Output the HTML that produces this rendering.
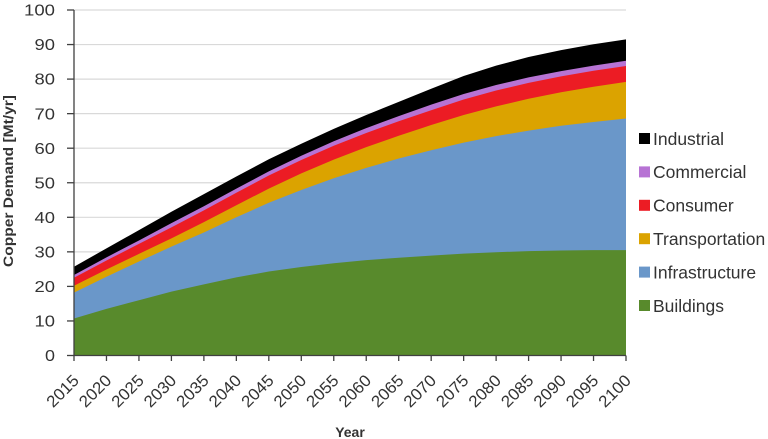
<!DOCTYPE html>
<html>
<head>
<meta charset="utf-8">
<style>
html,body{margin:0;padding:0;background:#fff;}
svg{display:block;}
text{font-family:"Liberation Sans",Arial,sans-serif;}
</style>
</head>
<body>
<svg width="768" height="439" viewBox="0 0 768 439" xmlns="http://www.w3.org/2000/svg">
<rect width="768" height="439" fill="#fff"/>
<!-- gridlines -->
<g stroke="#d9d9d9" stroke-width="1.2">
<line x1="74" y1="10" x2="626" y2="10"/>
<line x1="74" y1="44.55" x2="626" y2="44.55"/>
<line x1="74" y1="79.1" x2="626" y2="79.1"/>
<line x1="74" y1="113.65" x2="626" y2="113.65"/>
<line x1="74" y1="148.2" x2="626" y2="148.2"/>
<line x1="74" y1="182.75" x2="626" y2="182.75"/>
<line x1="74" y1="217.3" x2="626" y2="217.3"/>
<line x1="74" y1="251.85" x2="626" y2="251.85"/>
<line x1="74" y1="286.4" x2="626" y2="286.4"/>
<line x1="74" y1="320.95" x2="626" y2="320.95"/>
</g>
<!-- areas -->
<polygon fill="#000000" points="74,355.5 74,266.71 106.47,248.39 138.94,230.08 171.41,211.77 203.88,194.15 236.35,176.53 268.82,159.26 301.29,143.71 333.76,128.85 366.24,115.03 398.71,101.9 431.18,88.77 463.65,75.99 496.12,65.63 528.59,56.99 561.06,50.08 593.53,44.2 626,39.37 626,355.5"/>
<polygon fill="#b773d4" points="74,355.5 74,275 106.47,257.38 138.94,240.45 171.41,223.17 203.88,206.24 236.35,188.62 268.82,171.35 301.29,155.8 333.76,141.29 366.24,128.16 398.71,116.07 431.18,104.67 463.65,93.96 496.12,84.97 528.59,77.37 561.06,71.15 593.53,65.63 626,60.79 626,355.5"/>
<polygon fill="#ec1c24" points="74,355.5 74,277.76 106.47,260.49 138.94,243.9 171.41,227.32 203.88,210.39 236.35,192.77 268.82,175.49 301.29,159.95 333.76,145.78 366.24,133 398.71,121.25 431.18,110.19 463.65,99.48 496.12,90.5 528.59,82.9 561.06,76.34 593.53,70.81 626,65.97 626,355.5"/>
<polygon fill="#dba300" points="74,355.5 74,285.71 106.47,269.47 138.94,253.92 171.41,238.38 203.88,222.14 236.35,205.21 268.82,188.62 301.29,173.42 333.76,159.6 366.24,147.16 398.71,135.76 431.18,125.05 463.65,115.03 496.12,106.39 528.59,98.79 561.06,92.23 593.53,86.7 626,81.86 626,355.5"/>
<polygon fill="#6a97c9" points="74,355.5 74,292.62 106.47,276.73 138.94,261.52 171.41,246.67 203.88,232.5 236.35,217.3 268.82,202.79 301.29,190.01 333.76,178.26 366.24,167.89 398.71,158.56 431.18,150.27 463.65,142.67 496.12,136.11 528.59,130.58 561.06,125.74 593.53,121.94 626,118.49 626,355.5"/>
<polygon fill="#588a2c" points="74,355.5 74,318.53 106.47,308.86 138.94,300.22 171.41,291.58 203.88,284.33 236.35,277.42 268.82,271.54 301.29,267.05 333.76,263.25 366.24,260.14 398.71,257.72 431.18,255.65 463.65,253.58 496.12,252.2 528.59,251.16 561.06,250.47 593.53,250.12 626,250.12 626,355.5"/>
<!-- axes -->
<g stroke="#404040" stroke-width="1.3">
<line x1="74" y1="10" x2="74" y2="355.5"/>
<line x1="74" y1="355.5" x2="626" y2="355.5"/>
<line x1="67" y1="10" x2="74" y2="10"/>
<line x1="67" y1="44.55" x2="74" y2="44.55"/>
<line x1="67" y1="79.1" x2="74" y2="79.1"/>
<line x1="67" y1="113.65" x2="74" y2="113.65"/>
<line x1="67" y1="148.2" x2="74" y2="148.2"/>
<line x1="67" y1="182.75" x2="74" y2="182.75"/>
<line x1="67" y1="217.3" x2="74" y2="217.3"/>
<line x1="67" y1="251.85" x2="74" y2="251.85"/>
<line x1="67" y1="286.4" x2="74" y2="286.4"/>
<line x1="67" y1="320.95" x2="74" y2="320.95"/>
<line x1="67" y1="355.5" x2="74" y2="355.5"/>
<line x1="74" y1="355.5" x2="74" y2="361"/>
<line x1="106.47" y1="355.5" x2="106.47" y2="361"/>
<line x1="138.94" y1="355.5" x2="138.94" y2="361"/>
<line x1="171.41" y1="355.5" x2="171.41" y2="361"/>
<line x1="203.88" y1="355.5" x2="203.88" y2="361"/>
<line x1="236.35" y1="355.5" x2="236.35" y2="361"/>
<line x1="268.82" y1="355.5" x2="268.82" y2="361"/>
<line x1="301.29" y1="355.5" x2="301.29" y2="361"/>
<line x1="333.76" y1="355.5" x2="333.76" y2="361"/>
<line x1="366.24" y1="355.5" x2="366.24" y2="361"/>
<line x1="398.71" y1="355.5" x2="398.71" y2="361"/>
<line x1="431.18" y1="355.5" x2="431.18" y2="361"/>
<line x1="463.65" y1="355.5" x2="463.65" y2="361"/>
<line x1="496.12" y1="355.5" x2="496.12" y2="361"/>
<line x1="528.59" y1="355.5" x2="528.59" y2="361"/>
<line x1="561.06" y1="355.5" x2="561.06" y2="361"/>
<line x1="593.53" y1="355.5" x2="593.53" y2="361"/>
<line x1="626" y1="355.5" x2="626" y2="361"/>
</g>
<!-- y tick labels -->
<g font-size="16" fill="#333" text-anchor="end">
<text x="55" y="15.6" textLength="31" lengthAdjust="spacingAndGlyphs">100</text>
<text x="55" y="50.2" textLength="20.5" lengthAdjust="spacingAndGlyphs">90</text>
<text x="55" y="84.7" textLength="20.5" lengthAdjust="spacingAndGlyphs">80</text>
<text x="55" y="119.3" textLength="20.5" lengthAdjust="spacingAndGlyphs">70</text>
<text x="55" y="153.8" textLength="20.5" lengthAdjust="spacingAndGlyphs">60</text>
<text x="55" y="188.4" textLength="20.5" lengthAdjust="spacingAndGlyphs">50</text>
<text x="55" y="222.9" textLength="20.5" lengthAdjust="spacingAndGlyphs">40</text>
<text x="55" y="257.5" textLength="20.5" lengthAdjust="spacingAndGlyphs">30</text>
<text x="55" y="292" textLength="20.5" lengthAdjust="spacingAndGlyphs">20</text>
<text x="55" y="326.6" textLength="20.5" lengthAdjust="spacingAndGlyphs">10</text>
<text x="55" y="361.1" textLength="10" lengthAdjust="spacingAndGlyphs">0</text>
</g>
<!-- x tick labels -->
<g font-size="16.5" fill="#333" text-anchor="end">
<text transform="translate(80,381.5) rotate(-45)" textLength="38" lengthAdjust="spacingAndGlyphs">2015</text>
<text transform="translate(112.47,381.5) rotate(-45)" textLength="38" lengthAdjust="spacingAndGlyphs">2020</text>
<text transform="translate(144.94,381.5) rotate(-45)" textLength="38" lengthAdjust="spacingAndGlyphs">2025</text>
<text transform="translate(177.41,381.5) rotate(-45)" textLength="38" lengthAdjust="spacingAndGlyphs">2030</text>
<text transform="translate(209.88,381.5) rotate(-45)" textLength="38" lengthAdjust="spacingAndGlyphs">2035</text>
<text transform="translate(242.35,381.5) rotate(-45)" textLength="38" lengthAdjust="spacingAndGlyphs">2040</text>
<text transform="translate(274.82,381.5) rotate(-45)" textLength="38" lengthAdjust="spacingAndGlyphs">2045</text>
<text transform="translate(307.29,381.5) rotate(-45)" textLength="38" lengthAdjust="spacingAndGlyphs">2050</text>
<text transform="translate(339.76,381.5) rotate(-45)" textLength="38" lengthAdjust="spacingAndGlyphs">2055</text>
<text transform="translate(372.24,381.5) rotate(-45)" textLength="38" lengthAdjust="spacingAndGlyphs">2060</text>
<text transform="translate(404.71,381.5) rotate(-45)" textLength="38" lengthAdjust="spacingAndGlyphs">2065</text>
<text transform="translate(437.18,381.5) rotate(-45)" textLength="38" lengthAdjust="spacingAndGlyphs">2070</text>
<text transform="translate(469.65,381.5) rotate(-45)" textLength="38" lengthAdjust="spacingAndGlyphs">2075</text>
<text transform="translate(502.12,381.5) rotate(-45)" textLength="38" lengthAdjust="spacingAndGlyphs">2080</text>
<text transform="translate(534.59,381.5) rotate(-45)" textLength="38" lengthAdjust="spacingAndGlyphs">2085</text>
<text transform="translate(567.06,381.5) rotate(-45)" textLength="38" lengthAdjust="spacingAndGlyphs">2090</text>
<text transform="translate(599.53,381.5) rotate(-45)" textLength="38" lengthAdjust="spacingAndGlyphs">2095</text>
<text transform="translate(632,381.5) rotate(-45)" textLength="38" lengthAdjust="spacingAndGlyphs">2100</text>
</g>
<!-- axis titles -->
<text x="350" y="437" font-size="14" font-weight="bold" fill="#333" text-anchor="middle">Year</text>
<text transform="translate(13,181) rotate(-90)" font-size="13.5" font-weight="bold" fill="#333" text-anchor="middle" textLength="172" lengthAdjust="spacingAndGlyphs">Copper Demand [Mt/yr]</text>
<!-- legend -->
<g font-size="17.5" fill="#333">
<rect x="639" y="133" width="11" height="11" fill="#000000"/>
<text x="653" y="144.8">Industrial</text>
<rect x="639" y="166.4" width="11" height="11" fill="#b773d4"/>
<text x="653" y="178.2">Commercial</text>
<rect x="639" y="199.8" width="11" height="11" fill="#ec1c24"/>
<text x="653" y="211.6">Consumer</text>
<rect x="639" y="233.2" width="11" height="11" fill="#dba300"/>
<text x="653" y="245">Transportation</text>
<rect x="639" y="266.6" width="11" height="11" fill="#6a97c9"/>
<text x="653" y="278.4">Infrastructure</text>
<rect x="639" y="300" width="11" height="11" fill="#588a2c"/>
<text x="653" y="311.8">Buildings</text>
</g>
</svg>
</body>
</html>
